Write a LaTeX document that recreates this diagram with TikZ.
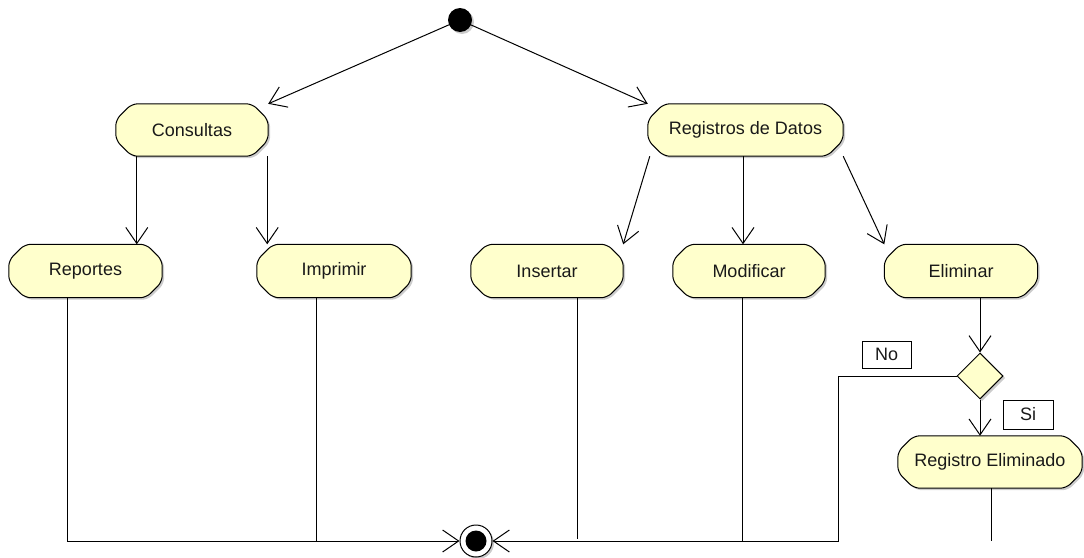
\documentclass[tikz,border=0pt]{standalone}
\usepackage{fontspec}
\setmainfont{Liberation Sans}
\usetikzlibrary{arrows.meta,backgrounds,shapes.geometric}
\definecolor{actfill}{RGB}{255,255,204}
\definecolor{txt}{RGB}{25,25,25}
\tikzset{
  act/.style={rectangle, inner sep=0pt, minimum height=52pt, text=txt,
    font=\fontsize{18}{20}\selectfont},
  arr/.style={-{Straight Barb[length=16pt,width=22pt,line width=1pt]}, line width=1pt},
  flow/.style={line width=1pt},
  lbl/.style={draw, line width=1pt, fill=white, inner sep=0pt, minimum width=49pt,
    minimum height=27pt, text=txt, font=\fontsize{18}{20}\selectfont},
}
\newcommand\myocta[1]{%
  \fill[black!20, rounded corners=6pt, transform canvas={shift={(2pt,-2pt)}}]
    ([xshift=16pt]#1.north west) -- ([xshift=-16pt]#1.north east) --
    ([yshift=-16pt]#1.north east) -- ([yshift=16pt]#1.south east) --
    ([xshift=-16pt]#1.south east) -- ([xshift=16pt]#1.south west) --
    ([yshift=16pt]#1.south west) -- ([yshift=-16pt]#1.north west) -- cycle;
  \draw[fill=actfill, line width=1pt, rounded corners=6pt]
    ([xshift=16pt]#1.north west) -- ([xshift=-16pt]#1.north east) --
    ([yshift=-16pt]#1.north east) -- ([yshift=16pt]#1.south east) --
    ([xshift=-16pt]#1.south east) -- ([xshift=16pt]#1.south west) --
    ([yshift=16pt]#1.south west) -- ([yshift=-16pt]#1.north west) -- cycle;
}
\begin{document}
\begin{tikzpicture}[x=1pt,y=-1pt]
\useasboundingbox (0,0) rectangle (1084,557);

% start / end
\fill[black!20] (462,22) circle (12pt);
\node[circle, fill=black, minimum size=24pt, inner sep=0pt] (start) at (460,20) {};

% actions
\node[act, minimum width=152pt] (cons) at (192,130) {Consultas};
\node[act, minimum width=195pt] (regs) at (745.5,130) {Registros de Datos};
\node[act, minimum width=153pt, minimum height=53pt] (rep) at (85.5,271) {Reportes};
\node[act, minimum width=154pt, minimum height=53pt] (imp) at (334,271) {Imprimir};
\node[act, minimum width=152pt, minimum height=53pt] (ins) at (547,271) {Insertar};
\node[act, minimum width=152pt, minimum height=53pt] (mod) at (749,271) {Modificar};
\node[act, minimum width=153pt, minimum height=53pt] (eli) at (961,271) {Eliminar};
\node[act, minimum width=184pt] (rege) at (990,462) {Registro Eliminado};

\begin{pgfonlayer}{background}
  \foreach \n in {cons,regs,rep,imp,ins,mod,eli,rege} {\myocta{\n}}
\end{pgfonlayer}

% decision
\fill[black!20, transform canvas={shift={(2pt,-2pt)}}] (980,353) -- (1003,376) -- (980,399) -- (957,376) -- cycle;
\node[diamond, draw, line width=1pt, fill=actfill, minimum width=46pt, minimum height=46pt, inner sep=0pt] (dia) at (980,376) {};

% end node
\fill[black!20] (478,543) circle (16pt);
\node[circle, draw, line width=1pt, fill=white, minimum size=32pt, inner sep=0pt] (endn) at (476,541) {};
\node[circle, fill=black, minimum size=21pt, inner sep=0pt] (endin) at (endn) {};

% guard labels
\node[lbl] (no) at (886.5,354.5) {No};
\node[lbl, minimum width=50pt, minimum height=29pt] (si) at (1028,414.5) {Si};

% connectors from start
\draw[arr] (start) -- (cons.north east);
\draw[arr] (start) -- (regs.north west);

% from Consultas
\coordinate (c1) at ([xshift=21pt]cons.south west);
\coordinate (c2) at ([xshift=-1pt]cons.south east);
\draw[arr] (c1) -- (c1 |- rep.north);
\draw[arr] (c2) -- (c2 |- imp.north);

% from Registros
\coordinate (r1) at ([xshift=2pt]regs.south west);
\coordinate (r2) at ([xshift=-2.5pt]regs.south);
\draw[arr] (r1) -- (ins.north east);
\draw[arr] (r2) -- (r2 |- mod.north);
\draw[arr] (regs.south east) -- (eli.north west);

% Eliminar -> decision -> Registro Eliminado
\draw[arr] (dia.north |- eli.south) -- (dia.north);
\draw[arr] (dia.south) -- (dia.south |- rege.north);

% to the end node
\coordinate (noc) at (838,376);
\draw[arr] (dia.west) -- (noc) -- (noc |- endn) -- (endn);
\coordinate (e1) at ([xshift=59pt]rep.south west);
\draw[arr] (e1) -- (e1 |- endn) -- (endn);
\coordinate (e2) at ([xshift=60pt]imp.south west);
\draw[flow] (e2) -- (e2 |- endn);
\coordinate (e3) at ([xshift=107pt]ins.south west);
\draw[flow, shorten >=2pt] (e3) -- (e3 |- endn);
\coordinate (e4) at ([xshift=70pt]mod.south west);
\draw[flow] (e4) -- (e4 |- endn);
\coordinate (e5) at ([xshift=94pt]rege.south west);
\draw[flow] (e5) -- (e5 |- endn);
\end{tikzpicture}
\end{document}
